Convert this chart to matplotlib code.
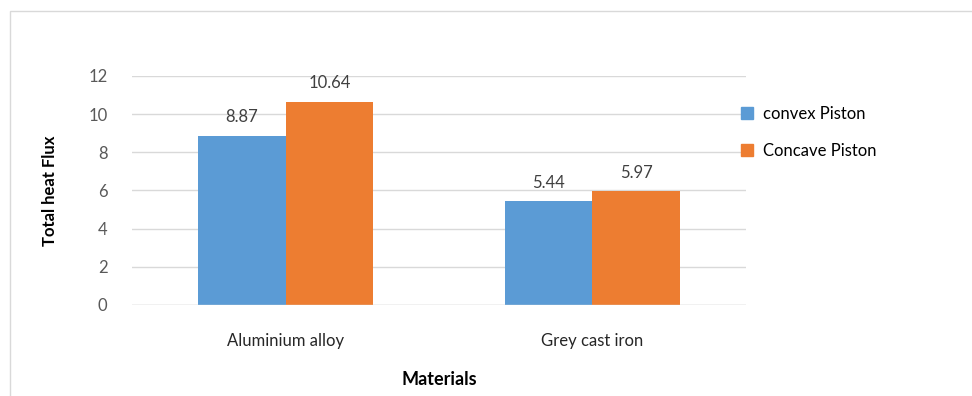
import matplotlib.pyplot as plt
import numpy as np
from matplotlib.patches import Rectangle, Patch

materials = ['Aluminium alloy', 'Grey cast iron']
convex = [8.87, 5.44]
concave = [10.64, 5.97]
series_names = ['convex Piston', 'Concave Piston']
colors = ['#5B9BD5', '#ED7D31']

plt.rcParams['font.family'] = ['Lato', 'DejaVu Sans']

fig = plt.figure(figsize=(9.72, 3.96), dpi=100)
ax = fig.add_axes([0.1363, 0.2298, 0.6307, 0.5783])

x = np.arange(len(materials))
w = 0.286
b1 = ax.bar(x - w / 2, convex, w, color=colors[0], zorder=3)
b2 = ax.bar(x + w / 2, concave, w, color=colors[1], zorder=3)

for bars in (b1, b2):
    for r in bars:
        ax.text(r.get_x() + r.get_width() / 2, r.get_height() + 0.55,
                '%.2f' % r.get_height(), ha='center', va='bottom',
                fontsize=12, color='#404040')

ax.set_xlim(-0.5, 1.5)
ax.set_ylim(0, 12)
ax.set_yticks(range(0, 13, 2))
ax.yaxis.grid(True, color='#d9d9d9', linewidth=1, zorder=0)
for s in ax.spines.values():
    s.set_visible(False)
ax.axhline(0, color='#d9d9d9', linewidth=1, zorder=4)
ax.tick_params(axis='both', length=0, labelsize=12, colors='#595959')
ax.tick_params(axis='y', pad=18)
ax.tick_params(axis='x', pad=20)
ax.set_xticks(x)
ax.set_xticklabels(materials, color='#262626', fontsize=12)

ax.set_ylabel('Total heat Flux', fontsize=12, fontweight='bold', labelpad=22)
ax.set_xlabel('Materials', fontsize=13, fontweight='bold', labelpad=16)

handles = [Patch(color=c) for c in colors]
fig.legend(handles, series_names, loc='upper left',
           bbox_to_anchor=(0.747, 0.77), frameon=False, fontsize=12,
           handlelength=0.7, handleheight=0.7, handletextpad=0.6,
           labelspacing=1.25)

fig.patches.append(Rectangle((10 / 972, -0.1), 2, (396 - 11) / 396 + 0.1,
                             transform=fig.transFigure, fill=False,
                             edgecolor='#d9d9d9', linewidth=1))

fig.savefig('out.png', dpi=100)
